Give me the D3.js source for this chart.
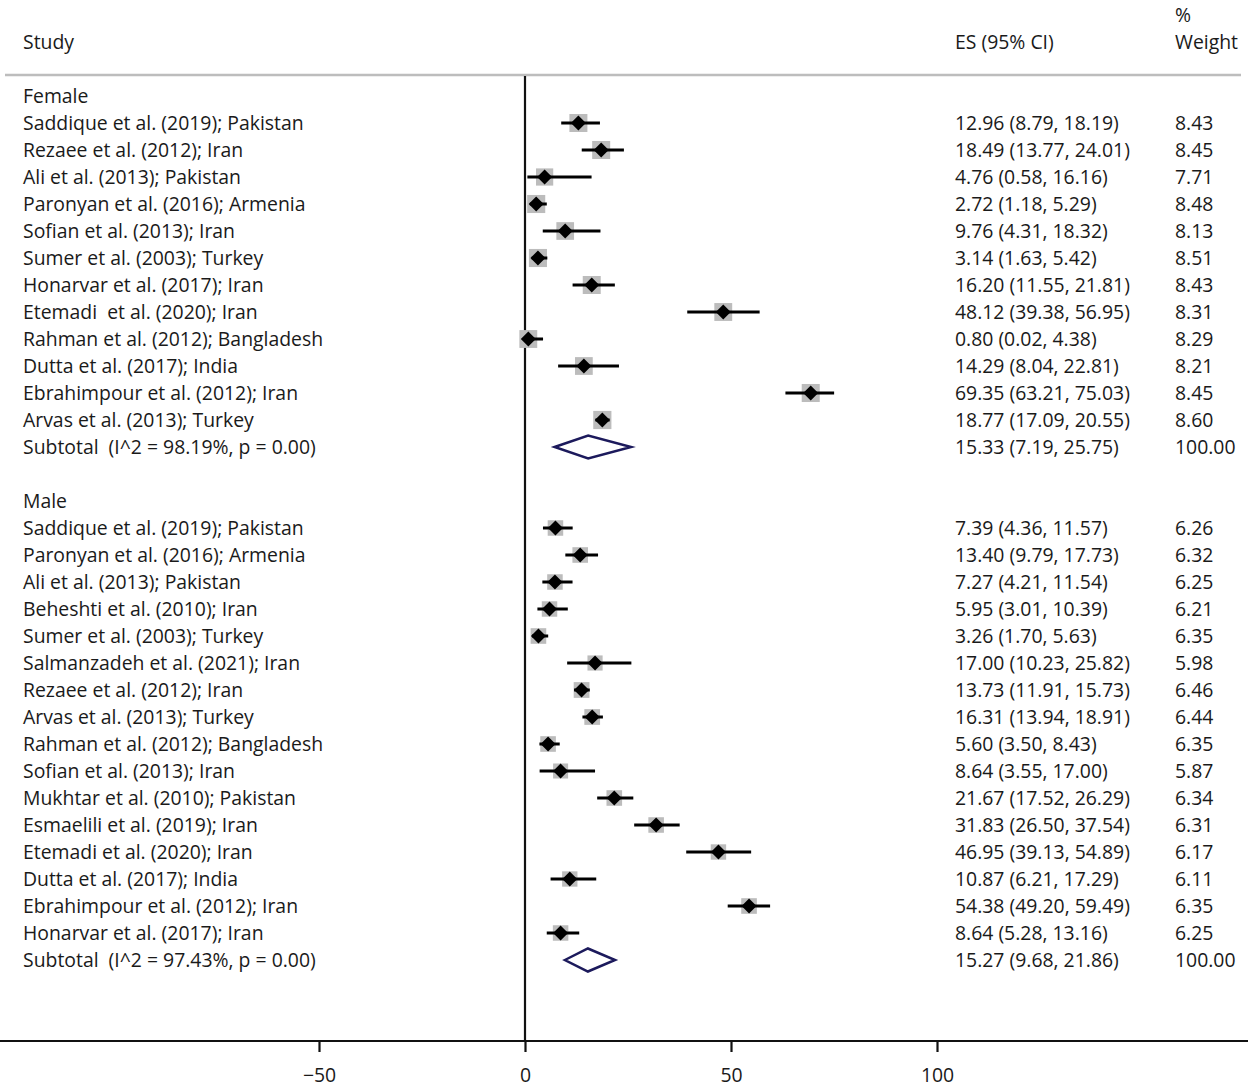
<!DOCTYPE html>
<html><head><meta charset="utf-8">
<script src="https://cdn.jsdelivr.net/npm/d3@7/dist/d3.min.js"></script>
<style>body{margin:0;background:#fff}svg{display:block}text{font-family:"Open Sans",sans-serif;font-size:19.4px;fill:#1a1a1a;white-space:pre}</style>
</head><body><svg id="c" width="1248" height="1089"></svg>
<script>
const femaleStudies = ["Saddique et al. (2019); Pakistan","Rezaee et al. (2012); Iran","Ali et al. (2013); Pakistan","Paronyan et al. (2016); Armenia","Sofian et al. (2013); Iran","Sumer et al. (2003); Turkey","Honarvar et al. (2017); Iran","Etemadi  et al. (2020); Iran","Rahman et al. (2012); Bangladesh","Dutta et al. (2017); India","Ebrahimpour et al. (2012); Iran","Arvas et al. (2013); Turkey"];
const femaleES = [12.96,18.49,4.76,2.72,9.76,3.14,16.20,48.12,0.80,14.29,69.35,18.77];
const femaleLo = [8.79,13.77,0.58,1.18,4.31,1.63,11.55,39.38,0.02,8.04,63.21,17.09];
const femaleHi = [18.19,24.01,16.16,5.29,18.32,5.42,21.81,56.95,4.38,22.81,75.03,20.55];
const femaleW = [8.43,8.45,7.71,8.48,8.13,8.51,8.43,8.31,8.29,8.21,8.45,8.60];
const femaleSub = {label:"Subtotal  (I^2 = 98.19%, p = 0.00)", es:15.33, lo:7.19, hi:25.75, w:100};

const maleStudies = ["Saddique et al. (2019); Pakistan","Paronyan et al. (2016); Armenia","Ali et al. (2013); Pakistan","Beheshti et al. (2010); Iran","Sumer et al. (2003); Turkey","Salmanzadeh et al. (2021); Iran","Rezaee et al. (2012); Iran","Arvas et al. (2013); Turkey","Rahman et al. (2012); Bangladesh","Sofian et al. (2013); Iran","Mukhtar et al. (2010); Pakistan","Esmaelili et al. (2019); Iran","Etemadi et al. (2020); Iran","Dutta et al. (2017); India","Ebrahimpour et al. (2012); Iran","Honarvar et al. (2017); Iran"];
const maleES = [7.39,13.40,7.27,5.95,3.26,17.00,13.73,16.31,5.60,8.64,21.67,31.83,46.95,10.87,54.38,8.64];
const maleLo = [4.36,9.79,4.21,3.01,1.70,10.23,11.91,13.94,3.50,3.55,17.52,26.50,39.13,6.21,49.20,5.28];
const maleHi = [11.57,17.73,11.54,10.39,5.63,25.82,15.73,18.91,8.43,17.00,26.29,37.54,54.89,17.29,59.49,13.16];
const maleW = [6.26,6.32,6.25,6.21,6.35,5.98,6.46,6.44,6.35,5.87,6.34,6.31,6.17,6.11,6.35,6.25];
const maleSub = {label:"Subtotal  (I^2 = 97.43%, p = 0.00)", es:15.27, lo:9.68, hi:21.86, w:100};

const xTicks = [-50,0,50,100];

// Build rows
const rows = [];
rows.push({type:"group", label:"Female"});
femaleStudies.forEach((s,i)=>rows.push({type:"study",label:s,es:femaleES[i],lo:femaleLo[i],hi:femaleHi[i],w:femaleW[i]}));
rows.push(Object.assign({type:"sub"},femaleSub));
rows.push({type:"blank"});
rows.push({type:"group", label:"Male"});
maleStudies.forEach((s,i)=>rows.push({type:"study",label:s,es:maleES[i],lo:maleLo[i],hi:maleHi[i],w:maleW[i]}));
rows.push(Object.assign({type:"sub"},maleSub));

const svg = d3.select("#c");
const x = d3.scaleLinear().domain([0,100]).range([525,937]);
const y = d3.scaleLinear().domain([0,1]).range([96,123]);
const fmt = d3.format(".2f");
const tdy = "0.37em";

// header
svg.append("text").attr("x",23).attr("y",42).attr("dy",tdy).text("Study");
svg.append("text").attr("x",955).attr("y",42).attr("dy",tdy).text("ES (95% CI)");
svg.append("text").attr("x",1175).attr("y",15).attr("dy",tdy).text("%");
svg.append("text").attr("x",1175).attr("y",42).attr("dy",tdy).text("Weight");
svg.append("line").attr("x1",5).attr("x2",1241).attr("y1",75).attr("y2",75).attr("stroke","#bdbdbd").attr("stroke-width",2.5);

// null line
svg.append("line").attr("x1",x(0)).attr("x2",x(0)).attr("y1",76).attr("y2",1041).attr("stroke","#111").attr("stroke-width",2.2);

const boxK = 18/Math.sqrt(8.43);
rows.forEach((r,i)=>{
  const cy = y(i);
  if(r.type==="blank") return;
  svg.append("text").attr("x",23).attr("y",cy).attr("dy",tdy).text(r.label);
  if(r.type==="group") return;
  svg.append("text").attr("x",955).attr("y",cy).attr("dy",tdy).text(`${fmt(r.es)} (${fmt(r.lo)}, ${fmt(r.hi)})`);
  svg.append("text").attr("x",1175).attr("y",cy).attr("dy",tdy).text(fmt(r.w));
  if(r.type==="study"){
    const s = boxK*Math.sqrt(r.w);
    svg.append("rect").attr("x",x(r.es)-s/2).attr("y",cy-s/2).attr("width",s).attr("height",s).attr("fill","#bcbcbc");
    svg.append("line").attr("x1",x(r.lo)).attr("x2",x(r.hi)).attr("y1",cy).attr("y2",cy).attr("stroke","#000").attr("stroke-width",3);
    const d=7.5;
    svg.append("path").attr("d",`M${x(r.es)-d},${cy}L${x(r.es)},${cy-d}L${x(r.es)+d},${cy}L${x(r.es)},${cy+d}Z`).attr("fill","#000");
  } else {
    const h=11.5;
    svg.append("path").attr("d",`M${x(r.lo)},${cy}L${x(r.es)},${cy-h}L${x(r.hi)},${cy}L${x(r.es)},${cy+h}Z`).attr("fill","none").attr("stroke","#1c1a5c").attr("stroke-width",2.5).attr("stroke-linejoin","miter");
  }
});

// axis
const xAxisScale = d3.scaleLinear().domain([-50,100]).range([x(-50),x(100)]);
const ax = svg.append("g").attr("transform","translate(0,1041)");
ax.append("line").attr("x1",0).attr("x2",1248).attr("y1",0).attr("y2",0).attr("stroke","#111").attr("stroke-width",2.2);
ax.call(d3.axisBottom(xAxisScale).tickValues(xTicks).tickSize(11).tickPadding(16).tickFormat(d=>d<0?"\u2212"+Math.abs(d):d));
ax.select(".domain").remove();
ax.selectAll(".tick line").attr("stroke","#111").attr("stroke-width",2.2);
ax.selectAll(".tick text").attr("font-family",'"Open Sans",sans-serif').attr("font-size",19.4).attr("fill","#1a1a1a");
</script></body></html>
